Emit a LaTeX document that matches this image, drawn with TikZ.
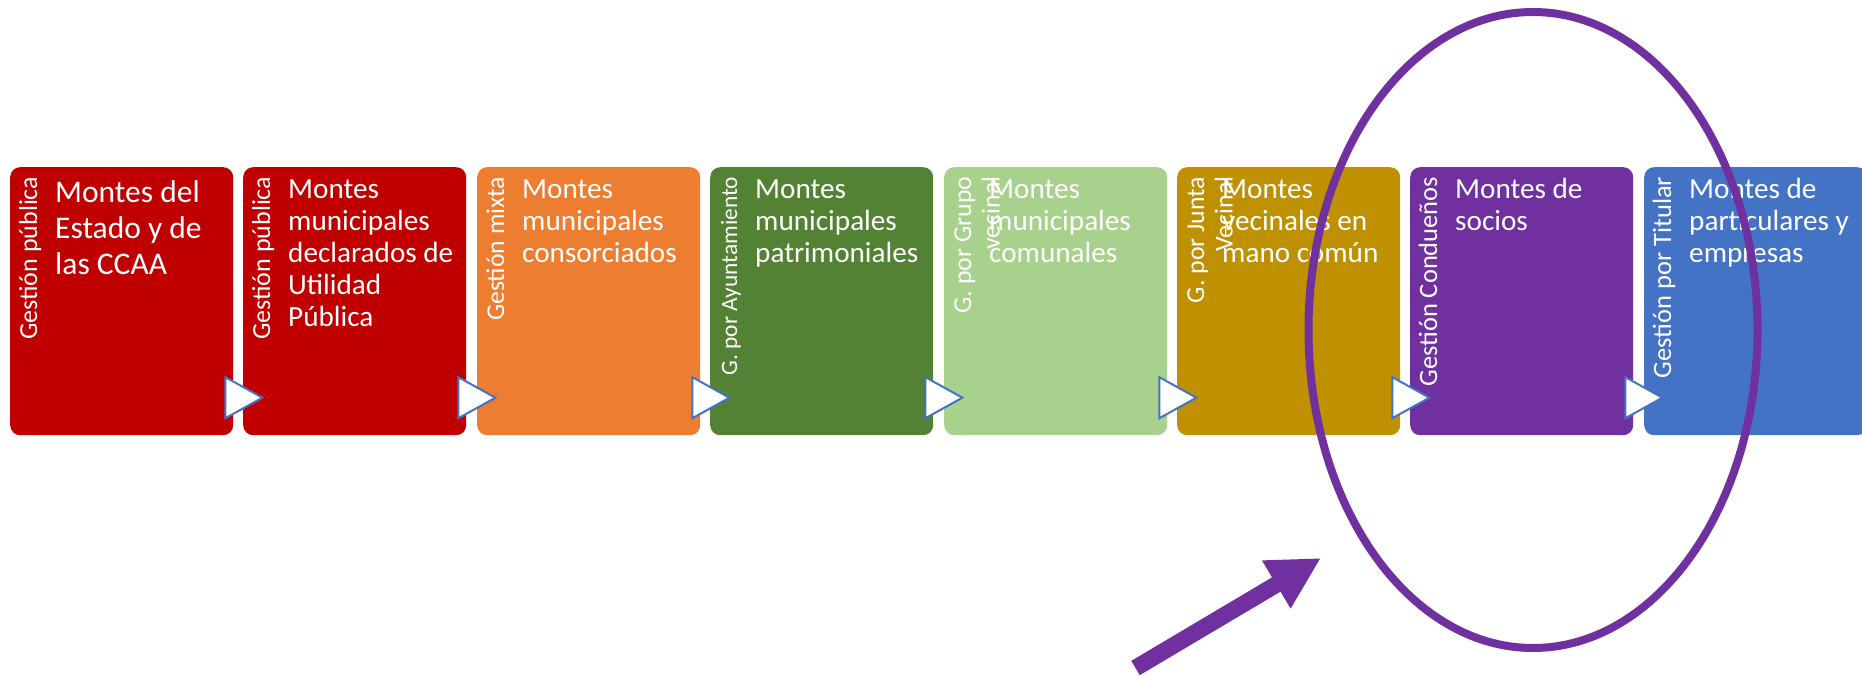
\documentclass[tikz,border=0pt]{standalone}
\usepackage{fontspec}
\setmainfont{Carlito}
\usepackage{tikz}
\usetikzlibrary{shapes.geometric,arrows.meta}
\definecolor{publicaRed}{RGB}{192,0,0}
\definecolor{mixtaOrange}{RGB}{237,125,49}
\definecolor{ayuntGreen}{RGB}{84,130,53}
\definecolor{grupoGreen}{RGB}{169,209,142}
\definecolor{juntaGold}{RGB}{191,144,0}
\definecolor{sociosPurple}{RGB}{112,48,160}
\definecolor{titularBlue}{RGB}{68,114,196}

\tikzset{
    monte/.style={rounded corners=10pt, minimum width=223pt, minimum height=268pt, anchor=north west, inner sep=0pt},
    montetext/.style={text=white, align=left, anchor=north west, inner sep=0pt, font=\fontsize{29.2}{32}\selectfont},
    gestion/.style={text=white, align=right, rotate=90, anchor=north east, inner sep=0pt, font=\fontsize{26}{28.5}\selectfont},
    paso/.style={draw=titularBlue, line width=2pt, fill=white}
}

\begin{document}
\begin{tikzpicture}[x=1pt, y=1pt]
    \useasboundingbox (0,0) rectangle (1862,675);
    % boxes
    \node[monte, fill=publicaRed] (m1) at (10,508) {};
    \node[monte, fill=publicaRed] (m2) at (243,508) {};
    \node[monte, fill=mixtaOrange] (m3) at (477,508) {};
    \node[monte, fill=ayuntGreen] (m4) at (710,508) {};
    \node[monte, fill=grupoGreen] (m5) at (944,508) {};
    \node[monte, fill=juntaGold] (m6) at (1177,508) {};
    \node[monte, fill=sociosPurple] (m7) at (1410,508) {};
    \node[monte, fill=titularBlue] (m8) at (1644,508) {};
    % steps between boxes
    \draw[paso, shift={(m1.east)}] (-8,-76) -- (-8,-117) -- (29,-96.5) -- cycle;
    \draw[paso, shift={(m2.east)}] (-8,-76) -- (-8,-117) -- (29,-96.5) -- cycle;
    \draw[paso, shift={(m3.east)}] (-8,-76) -- (-8,-117) -- (29,-96.5) -- cycle;
    \draw[paso, shift={(m4.east)}] (-8,-76) -- (-8,-117) -- (29,-96.5) -- cycle;
    \draw[paso, shift={(m5.east)}] (-8,-76) -- (-8,-117) -- (29,-96.5) -- cycle;
    \draw[paso, shift={(m6.east)}] (-8,-76) -- (-8,-117) -- (29,-96.5) -- cycle;
    \draw[paso, shift={(m7.east)}] (-8,-76) -- (-8,-117) -- (29,-96.5) -- cycle;
    % main texts
    \node[montetext, font=\fontsize{31.5}{36}\selectfont] (t1) at (55,498) {\strut Montes del\\Estado y de\\las CCAA};
    \node[montetext] (t2) at (288,499.4) {\strut Montes\\municipales\\declarados de\\Utilidad\\Pública};
    \node[montetext] (t3) at (522,499.4) {\strut Montes\\municipales\\consorciados};
    \node[montetext] (t4) at (755,499.4) {\strut Montes\\municipales\\patrimoniales};
    \node[montetext] (t5) at (989,499.4) {\strut Montes\\municipales\\comunales};
    \node[montetext] (t6) at (1222,499.4) {\strut Montes\\vecinales en\\mano común};
    \node[montetext] (t7) at (1455,499.4) {\strut Montes de\\socios};
    \node[montetext] (t8) at (1689,499.4) {\strut Montes de\\particulares y\\empresas};
    % side labels
    \node[gestion] (g1) at (17,498.5) {\strut Gestión pública};
    \node[gestion] (g2) at (250,498.5) {\strut Gestión pública};
    \node[gestion, font=\fontsize{25.7}{28.5}\selectfont] (g3) at (484,498.5) {\strut Gestión mixta};
    \node[gestion, font=\fontsize{23.4}{28.5}\selectfont] (g4) at (717,498.5) {\strut G. por Ayuntamiento};
    \node[gestion, font=\fontsize{25.8}{28.5}\selectfont] (g5) at (951,498.5) {\strut G. por Grupo\\vecinal};
    \node[gestion, font=\fontsize{25.8}{28.5}\selectfont] (g6) at (1184,498.5) {\strut G. por Junta\\Vecinal};
    \node[gestion, font=\fontsize{26.5}{28.5}\selectfont] (g7) at (1417,498.5) {\strut Gestión Condueños};
    \node[gestion, font=\fontsize{26.5}{28.5}\selectfont] (g8) at (1651,498.5) {\strut Gestión por Titular};
    % highlight
    \node[ellipse, draw=sociosPurple, line width=8pt, minimum width=449pt, minimum height=636pt, inner sep=0pt] (marco) at (1533,345) {};
    \coordinate (flechaIni) at (1135.5,7);
    \coordinate (flechaFin) at (1321,117);
    \draw[sociosPurple, line width=16.6pt, -{Triangle[length=52pt,width=52pt]}] (flechaIni) -- (flechaFin);
\end{tikzpicture}
\end{document}
